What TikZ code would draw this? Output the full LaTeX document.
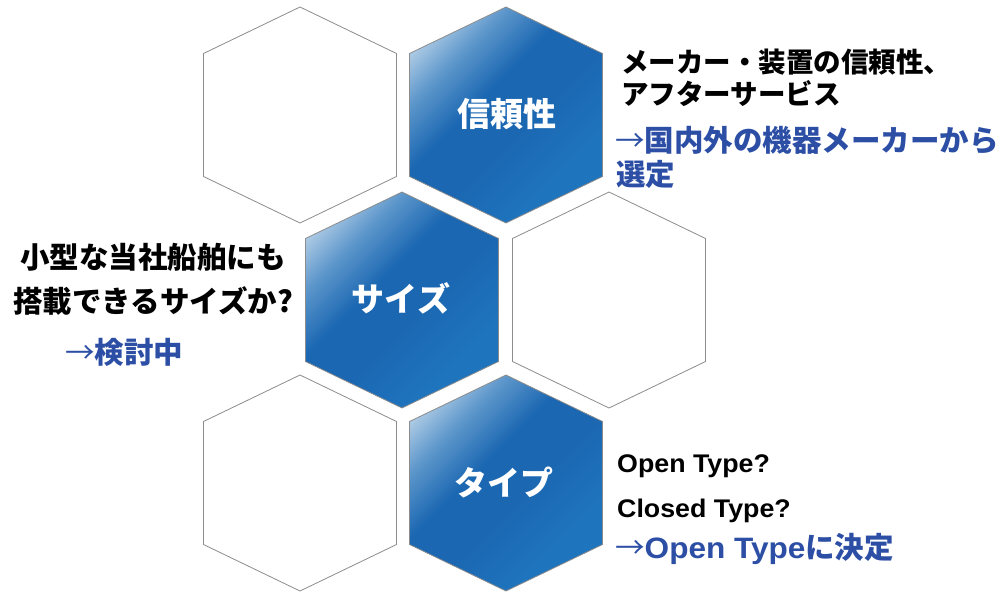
\documentclass[tikz,border=0pt]{standalone}
\usepackage{fontspec}
\newfontfamily\jp{Noto Sans CJK JP}
\newfontfamily\lat{Liberation Sans}[FakeStretch=1.05]
\newfontfamily\latb{Liberation Sans}[FakeStretch=1.07]
\definecolor{hexB}{HTML}{1B67B2}
\definecolor{hexC}{HTML}{1F74BE}
\definecolor{hexM}{HTML}{5A95CA}
\definecolor{hexL}{HTML}{C4DAEC}
\definecolor{txtB}{HTML}{2C4FA5}
\definecolor{edge}{HTML}{8C8C8C}
\pgfdeclareverticalshading{hexshade}{100bp}{color(0bp)=(hexC); color(30bp)=(hexC); color(45bp)=(hexB); color(57bp)=(hexB); color(68bp)=(hexM); color(80bp)=(hexL); color(100bp)=(hexL)}
\tikzset{
  hexline/.style={draw=edge, line width=0.8pt},
  hexwhite/.style={hexline, fill=white},
  hexblue/.style={hexline, shading=hexshade, shading angle=45},
  hexlabel/.style={font=\jp\bfseries\fontsize{33}{36}\selectfont, text=white, inner sep=0pt},
  blk/.style={font=\jp\bfseries\fontsize{27.5}{30}\selectfont, text=black, inner sep=0pt, anchor=base west},
  blkL/.style={font=\jp\bfseries\fontsize{29.5}{32}\selectfont, text=black, inner sep=0pt, anchor=base west},
  blu/.style={font=\jp\bfseries\fontsize{29.5}{32}\selectfont, text=txtB, inner sep=0pt, anchor=base west},
  latblk/.style={font=\lat\bfseries\fontsize{25.5}{28}\selectfont, text=black, inner sep=0pt, anchor=base west},
  latblu/.style={font=\latb\bfseries\fontsize{29.5}{31}\selectfont, text=txtB, inner sep=0pt, anchor=base west},
}
\newcommand\hexshape[3]{\path[#3, shift={(#1,#2)}] (0,-108) -- (96.5,-61.5) -- (96.5,61.5) -- (0,108) -- (-96.5,61.5) -- (-96.5,-61.5) -- cycle;}
\newcommand\thinarrow{{\jp\mdseries →}}
\begin{document}
\begin{tikzpicture}[x=1pt,y=-1pt]
\useasboundingbox (0,0) rectangle (1006,592);
% hexagons
\hexshape{300}{115}{hexwhite}
\hexshape{506}{115}{hexblue}
\hexshape{402}{300}{hexblue}
\hexshape{609}{300}{hexwhite}
\hexshape{300}{483}{hexwhite}
\hexshape{506}{483}{hexblue}
% hex labels
\node[hexlabel] (rel) at (507,114) {信頼性};
\node[hexlabel] (size) at (401,298) {サイズ};
\node[hexlabel] (type) at (504,482) {タイプ};
% top right text
\node[blk] (t1) at (621,72) {メーカー・装置の信頼性、};
\node[blk] (t2) at (621,104) {アフターサービス};
\node[blu] (t3) at (615,151) {\thinarrow 国内外の機器メーカーから};
\node[blu] (t4) at (616,185) {選定};
% left text
\node[blkL] (l1) at (20,268) {小型な当社船舶にも};
\node[blkL] (l2) at (13,312) {搭載できるサイズか?};
\node[blu] (l3) at (65,363) {\thinarrow 検討中};
% bottom right text
\node[latblk] (b1) at (617,472) {Open Type?};
\node[latblk] (b2) at (617,517) {Closed Type?};
\node[latblu] (b3) at (615,558) {\thinarrow Open Type{\jp\bfseries に決定}};
\end{tikzpicture}
\end{document}
